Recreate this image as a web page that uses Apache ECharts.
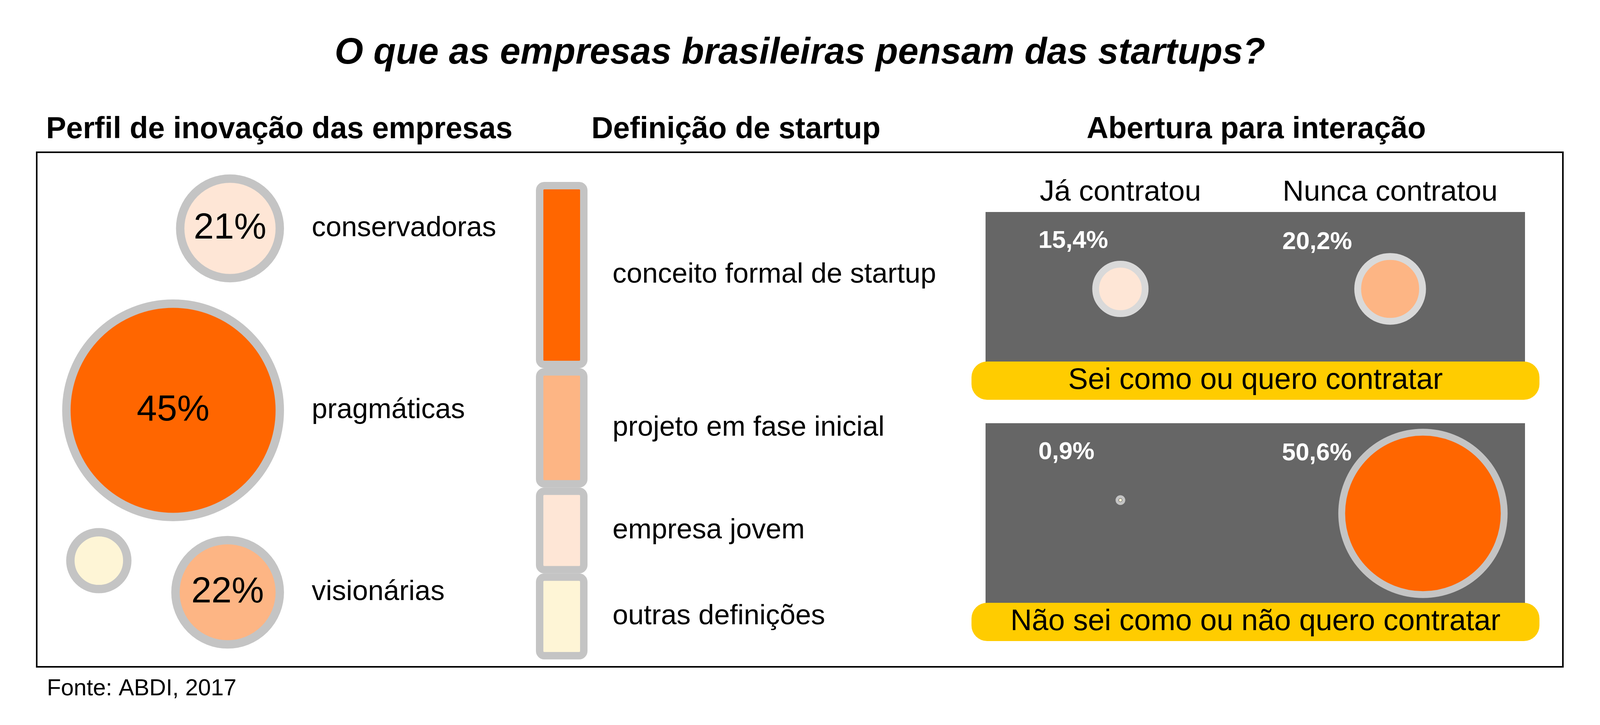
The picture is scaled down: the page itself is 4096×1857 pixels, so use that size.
<!DOCTYPE html>
<html>
<head>
<meta charset="utf-8">
<script src="https://cdn.jsdelivr.net/npm/echarts@6/dist/echarts.min.js"></script>
<style>
html,body{margin:0;padding:0;background:#ffffff;}
#chart{width:4096px;height:1857px;}
</style>
</head>
<body>
<div id="chart"></div>
<script>
// ---------------- DATA ----------------
const chartTitle = 'O que as empresas brasileiras pensam das startups?';
const sectionTitles = ['Perfil de inovação das empresas', 'Definição de startup', 'Abertura para interação'];
const sourceNote = 'Fonte: ABDI, 2017';

const profileNames = ['conservadoras', 'pragmáticas', 'visionárias'];
const profileValues = [21, 45, 22];
const profileOtherValue = 12; // unlabeled remainder bubble

const definitionNames = ['conceito formal de startup', 'projeto em fase inicial', 'empresa jovem', 'outras definições'];
const definitionValues = [39, 25, 18, 18];

const hiringColumns = ['Já contratou', 'Nunca contratou'];
const hiringRows = ['Sei como ou quero contratar', 'Não sei como ou não quero contratar'];
const hiringKnowValues = [15.4, 20.2];
const hiringDontKnowValues = [0.9, 50.6];

// ---------------- STYLE ----------------
const FONT = '"Liberation Sans", Arial, Helvetica, sans-serif';
const C_DARK = '#FF6600', C_MID = '#FDB584', C_LIGHT = '#FEE6D6', C_CREAM = '#FEF5D6';
const GRAY_RING = '#C4C4C4', GRAY_RING_LIGHT = '#D9D9D9';
const profileColors = [C_LIGHT, C_DARK, C_MID];
const definitionColors = [C_DARK, C_MID, C_LIGHT, C_CREAM];
const knowColors = [C_LIGHT, C_MID];
const dontKnowColors = [C_CREAM, C_DARK];

const LEFT_K = 12.14, LEFT_BW = 21.5;   // px per percentage point (diameter)
const RIGHT_K = 8.22, RIGHT_BW = 17.5;

const fmtPct = v => String(v).replace('.', ',') + '%';

// ---------------- BUILD ----------------
const profileData = profileValues.map((v, i) => {
  const s = v * LEFT_K;
  return {
    value: [0, i, v],
    symbolSize: s,
    symbolOffset: [-(s + LEFT_BW) / 2, 0],
    itemStyle: { color: profileColors[i] },
    label: { show: true }
  };
});
profileData.push({
  value: [0, 2, profileOtherValue],
  symbolSize: profileOtherValue * LEFT_K,
  symbolOffset: [-474, -81],
  itemStyle: { color: C_CREAM },
  label: { show: false }
});

const definitionSeries = definitionValues.map((v, i) => ({
  type: 'bar',
  name: definitionNames[i],
  xAxisIndex: 1, yAxisIndex: 1,
  stack: 'def',
  barWidth: 132,
  data: [v],
  itemStyle: { color: definitionColors[i], borderColor: GRAY_RING, borderWidth: 19, borderRadius: 12 },
  label: { show: true, position: 'right', distance: 64, formatter: '{a}', fontSize: 72, fontFamily: FONT, color: '#000' }
}));

const knowLabelOffsets = [[-210, -122], [-276, -119]];
const dontKnowLabelOffsets = [[-210, -122], [-361, -153]];
const dontKnowSymbolOffsets = [[0, -34], [84, 0]];

const knowData = hiringKnowValues.map((v, i) => ({
  value: [i, 0, v],
  symbolSize: v * RIGHT_K,
  itemStyle: { color: knowColors[i] },
  label: { offset: knowLabelOffsets[i] }
}));
const dontKnowData = hiringDontKnowValues.map((v, i) => ({
  value: [i, 0, v],
  symbolSize: v * RIGHT_K,
  symbolOffset: dontKnowSymbolOffsets[i],
  itemStyle: { color: dontKnowColors[i] },
  label: { offset: dontKnowLabelOffsets[i] }
}));

const valueLabel = {
  show: true, position: 'inside', align: 'left', verticalAlign: 'middle',
  formatter: p => fmtPct(p.value[2]),
  color: '#fff', fontWeight: 'bold', fontSize: 63, fontFamily: FONT
};

const hidden = { show: false };

const option = {
  animation: false,
  backgroundColor: '#ffffff',
  textStyle: { fontFamily: FONT },
  grid: [
    { left: 717, width: 20, top: 352, height: 1398 },
    { left: 1338, width: 200, top: 466, height: 1223 },
    { left: 2523, width: 1381, top: 543, height: 394, show: true, backgroundColor: '#666666', borderWidth: 0 },
    { left: 2523, width: 1381, top: 1084, height: 462, show: true, backgroundColor: '#666666', borderWidth: 0 }
  ],
  xAxis: [
    { gridIndex: 0, type: 'category', data: ['Perfil'], show: false },
    { gridIndex: 1, type: 'category', data: ['Definição'], show: false },
    { gridIndex: 2, type: 'category', data: hiringColumns, position: 'top',
      axisLine: hidden, axisTick: hidden, splitLine: hidden,
      axisLabel: { interval: 0, margin: 12, fontSize: 75, color: '#000', fontFamily: FONT } },
    { gridIndex: 3, type: 'category', data: hiringColumns, show: false }
  ],
  yAxis: [
    { gridIndex: 0, type: 'category', data: profileNames, inverse: true, position: 'right',
      axisLine: hidden, axisTick: hidden, splitLine: hidden,
      axisLabel: { interval: 0, margin: 61, fontSize: 72, color: '#000', fontFamily: FONT } },
    { gridIndex: 1, type: 'value', min: 0, max: 100, inverse: true, show: false },
    { gridIndex: 2, type: 'category', data: [hiringRows[0]], show: false },
    { gridIndex: 3, type: 'category', data: [hiringRows[1]], show: false }
  ],
  series: [
    {
      type: 'scatter', name: 'Perfil', xAxisIndex: 0, yAxisIndex: 0,
      data: profileData,
      itemStyle: { borderColor: GRAY_RING, borderWidth: LEFT_BW, opacity: 1 },
      label: { position: 'inside', formatter: p => p.value[2] + '%', fontSize: 93, color: '#000', fontFamily: FONT }
    },
    ...definitionSeries,
    {
      type: 'scatter', name: hiringRows[0], xAxisIndex: 2, yAxisIndex: 2,
      data: knowData,
      itemStyle: { borderColor: GRAY_RING_LIGHT, borderWidth: RIGHT_BW, opacity: 1 },
      label: valueLabel
    },
    {
      type: 'scatter', name: hiringRows[1], xAxisIndex: 3, yAxisIndex: 3,
      data: dontKnowData,
      itemStyle: { borderColor: GRAY_RING, borderWidth: RIGHT_BW, opacity: 1 },
      label: valueLabel
    }
  ],
  graphic: [
    { type: 'rect', z: 50, shape: { x: 94, y: 390, width: 3907, height: 1318 },
      style: { fill: 'none', stroke: '#000', lineWidth: 4 } },
    { type: 'text', z: 100, x: 2048, y: 137,
      style: { text: chartTitle, font: 'italic bold 94px ' + FONT, fill: '#000', align: 'center', verticalAlign: 'middle' } },
    { type: 'text', z: 100, x: 715, y: 333,
      style: { text: sectionTitles[0], font: 'bold 77px ' + FONT, fill: '#000', align: 'center', verticalAlign: 'middle' } },
    { type: 'text', z: 100, x: 1884, y: 333,
      style: { text: sectionTitles[1], font: 'bold 77px ' + FONT, fill: '#000', align: 'center', verticalAlign: 'middle' } },
    { type: 'text', z: 100, x: 3216, y: 333,
      style: { text: sectionTitles[2], font: 'bold 77px ' + FONT, fill: '#000', align: 'center', verticalAlign: 'middle' } },
    { type: 'rect', z: 100, shape: { x: 2487, y: 926, width: 1454, height: 98, r: 40 }, style: { fill: '#FFCC00' } },
    { type: 'text', z: 101, x: 3214, y: 975,
      style: { text: hiringRows[0], font: '76px ' + FONT, fill: '#000', align: 'center', verticalAlign: 'middle' } },
    { type: 'rect', z: 100, shape: { x: 2487, y: 1544, width: 1454, height: 98, r: 40 }, style: { fill: '#FFCC00' } },
    { type: 'text', z: 101, x: 3214, y: 1593,
      style: { text: hiringRows[1], font: '76px ' + FONT, fill: '#000', align: 'center', verticalAlign: 'middle' } },
    { type: 'text', z: 100, x: 120, y: 1765,
      style: { text: sourceNote, font: '59px ' + FONT, fill: '#000', align: 'left', verticalAlign: 'middle' } }
  ]
};

const chart = echarts.init(document.getElementById('chart'), null, { renderer: 'canvas', width: 4096, height: 1857 });
chart.setOption(option);
</script>
</body>
</html>
